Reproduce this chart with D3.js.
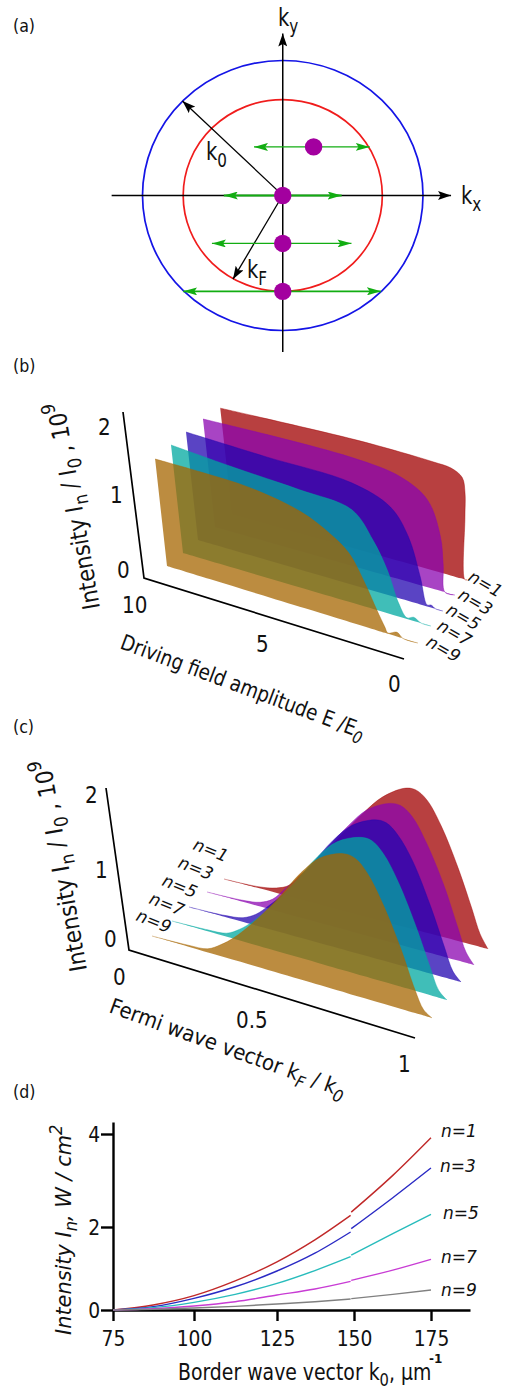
<!DOCTYPE html>
<html>
<head>
<meta charset="utf-8">
<title></title>
<script src="https://cdn.jsdelivr.net/npm/d3@7"></script>
<style>
    html, body { margin: 0; padding: 0; background: #fff; }
    svg { display: block; }
    text { font-family: "DejaVu Sans", sans-serif; fill: #111; }
</style>
</head>
<body>
<svg width="506" height="1391"></svg>
<script>
// series order, back to front
var orders = [1, 3, 5, 7, 9];
var ribbonColors = ["#a00000", "#8b06b0", "#2306b0", "#00a8a0", "#a66600"];

// (a) values in units of k0
var k0 = 1, kF = 0.71;
var dotsKx = [0.22, 0, 0, 0];
var dotsKy = [0.36, 0, -0.355, -0.71];
var arrowLeft = [-0.205, -0.42, -0.505, -0.71];
var arrowRight = [0.62, 0.42, 0.49, 0.70];

// (b) intensity against driving field, one pair per order
var bE1 = [10, 4.7, 2.75, 1.4, 0.7, 0.25, 0.13, 0.12, 0.1, 0];
var bI1 = [1.47, 1.53, 1.526, 1.51, 1.49, 1.40, 1.2, 0.87, 0, 0];
var bE3 = [10, 4.15, 2.2, 1.14, 0.62, 0.5, 0.42, 0];
var bI3 = [1.5, 1.52, 1.43, 1.21, 0.75, 0.37, 0, 0];
var bE5 = [10, 6.9, 3.6, 2.1, 1.4, 0.93, 0.65, 0.49, 0.3, 0];
var bI5 = [1.5, 1.46, 1.425, 1.236, 0.89, 0.38, 0.02, 0.035, 0, 0];
var bE7 = [10, 7.6, 5.1, 3.1, 2.3, 1.75, 1.31, 0.97, 0.7, 0.4, 0];
var bI7 = [1.5, 1.43, 1.375, 1.30, 0.96, 0.6, 0.19, 0.015, 0.05, 0, 0];
var bE9 = [10, 8.3, 6.4, 4.5, 3.4, 2.7, 2.1, 1.63, 1.32, 1.2, 0.84, 0.6, 0];
var bI9 = [1.486, 1.49, 1.47, 1.34, 1.15, 0.96, 0.61, 0.28, 0.08, 0.01, 0.06, 0, 0];
var bSeries = [[bE1, bI1], [bE3, bI3], [bE5, bI5], [bE7, bI7], [bE9, bI9]];

// (c) intensity against Fermi wave vector
var cK = [0, 0.13, 0.2, 0.25, 0.3, 0.37, 0.46, 0.55, 0.62, 0.7, 0.74, 0.78, 0.83, 0.89, 0.94, 0.97, 1];
var cI1 = [0, 0.02, 0.07, 0.155, 0.36, 0.62, 1.05, 1.46, 1.74, 1.94, 1.96, 1.86, 1.55, 1.02, 0.5, 0.18, 0];
var cI3 = [0, 0.02, 0.06, 0.155, 0.35, 0.62, 1.05, 1.48, 1.77, 1.94, 1.95, 1.84, 1.52, 1.0, 0.46, 0.15, 0];
var cI5 = [0, 0.02, 0.06, 0.16, 0.33, 0.6, 1.04, 1.5, 1.78, 1.94, 1.94, 1.81, 1.5, 0.95, 0.42, 0.12, 0];
var cI7 = [0, 0.02, 0.05, 0.16, 0.32, 0.6, 1.03, 1.5, 1.78, 1.93, 1.93, 1.79, 1.45, 0.9, 0.38, 0.1, 0];
var cI9 = [0, 0.02, 0.05, 0.165, 0.32, 0.6, 1.02, 1.5, 1.79, 1.94, 1.92, 1.76, 1.40, 0.85, 0.32, 0.08, 0];
var cSeries = [cI1, cI3, cI5, cI7, cI9];

// (d) intensity against border wave vector, the figure has a seam just before 150
var dK = [75, 87.4, 100, 112.4, 125, 137.3, 148.9, 149.1, 162.6, 175];
var dI1 = [0, 0.12, 0.345, 0.70, 1.16, 1.69, 2.25, 2.32, 3.11, 3.92];
var dI3 = [0, 0.08, 0.28, 0.56, 0.94, 1.37, 1.88, 1.96, 2.63, 3.27];
var dI5 = [0, 0.056, 0.185, 0.377, 0.64, 0.95, 1.285, 1.325, 1.84, 2.27];
var dI7 = [0, 0.03, 0.096, 0.2, 0.36, 0.506, 0.69, 0.715, 0.96, 1.22];
var dI9 = [0, 0.016, 0.048, 0.088, 0.145, 0.2, 0.265, 0.273, 0.376, 0.482];
var dSeries = [dI1, dI3, dI5, dI7, dI9];
var dColors = ["#c02828", "#2a2ac4", "#28bcbc", "#c83cd4", "#808080"];
var dTicksX = [75, 100, 125, 150, 175];
var dTicksY = [0, 2, 4];

var svg = d3.select("svg");

// text with sub and superscripts, scaled sideways because the figure is squeezed
function label(x, y, parts, size, rot, sx, italic) {
    var t = svg.append("text")
        .attr("transform", "translate(" + x + "," + y + ") rotate(" + (rot || 0) + ") scale(" + (sx || 1) + ",1)")
        .attr("font-size", size)
        .attr("font-style", italic ? "italic" : "normal");
    var shift = 0;
    parts.forEach(function(p) {
        var plain = typeof p === "string";
        var s = plain ? p : p[0];
        var kind = plain ? "" : p[1];
        var target = kind === "sub" ? size * 0.28 : kind === "sup" ? -size * 0.42 : 0;
        var span = t.append("tspan")
            .attr("dy", target - shift)
            .attr("font-size", kind === "sub" || kind === "sup" ? size * 0.78 : size)
            .text(s);
        if (!plain && p[2]) span.attr("font-style", "italic");
        shift = target;
    });
    return t;
}

function marker(id, color, w, h) {
    svg.append("defs").append("marker")
        .attr("id", id)
        .attr("viewBox", "0 0 " + w + " " + h)
        .attr("refX", w).attr("refY", h / 2)
        .attr("markerWidth", w).attr("markerHeight", h)
        .attr("markerUnits", "userSpaceOnUse")
        .attr("orient", "auto")
        .append("path")
        .attr("d", "M0,0L" + w + "," + (h / 2) + "L0," + h + "L" + (w * 0.2) + "," + (h / 2) + "Z")
        .attr("fill", color);
}
marker("blackHead", "#000", 13, 9);
marker("greenHead", "#12ad12", 14, 8);

// ---------- (a)
var kx = d3.scaleLinear().domain([-1, 1]).range([142.5, 423]);
var ky = d3.scaleLinear().domain([-1, 1]).range([330.5, 60.5]);
var a = svg.append("g");

[[k0, "#1414e6"], [kF, "#f01c1c"]].forEach(function(c) {
    a.append("ellipse")
        .attr("cx", kx(0)).attr("cy", ky(0))
        .attr("rx", kx(c[0]) - kx(0)).attr("ry", ky(0) - ky(c[0]))
        .attr("fill", "none").attr("stroke", c[1]).attr("stroke-width", 1.7);
});

a.append("line").attr("x1", kx(-1.22)).attr("x2", kx(1.2)).attr("y1", ky(0)).attr("y2", ky(0))
    .attr("stroke", "#000").attr("stroke-width", 1.5).attr("marker-end", "url(#blackHead)");
a.append("line").attr("x1", kx(0)).attr("x2", kx(0)).attr("y1", ky(-1.16)).attr("y2", ky(1.2))
    .attr("stroke", "#000").attr("stroke-width", 1.5).attr("marker-end", "url(#blackHead)");
a.append("line").attr("x1", kx(-0.04)).attr("y1", ky(0.04)).attr("x2", kx(-0.715)).attr("y2", ky(0.7))
    .attr("stroke", "#000").attr("stroke-width", 1.3).attr("marker-end", "url(#blackHead)");
a.append("line").attr("x1", kx(-0.03)).attr("y1", ky(-0.05)).attr("x2", kx(-0.355)).attr("y2", ky(-0.62))
    .attr("stroke", "#000").attr("stroke-width", 1.3).attr("marker-end", "url(#blackHead)");

dotsKy.forEach(function(v, i) {
    [arrowLeft[i], arrowRight[i]].forEach(function(end) {
        a.append("line")
            .attr("x1", kx(dotsKx[i])).attr("x2", kx(end))
            .attr("y1", ky(v)).attr("y2", ky(v))
            .attr("stroke", "#12ad12").attr("stroke-width", i === 3 || i === 1 ? 1.8 : 1.2)
            .attr("marker-end", "url(#greenHead)");
    });
});
a.selectAll("circle").data(dotsKy).enter().append("circle")
    .attr("cx", function(d, i) { return kx(dotsKx[i]); })
    .attr("cy", function(d) { return ky(d); })
    .attr("r", 8.7)
    .attr("fill", "#a3009f");

label(13, 32, ["(a)"], 18, 0, 0.88);
label(278, 26, ["k", ["y", "sub"]], 25, 0, 0.78);
label(461, 204, ["k", ["x", "sub"]], 25, 0, 0.78);
label(206, 160, ["k", ["0", "sub"]], 25, 0, 0.78);
label(247, 278, ["k", ["F", "sub"]], 25, 0, 0.78);

// ---------- oblique ribbons for (b) and (c)
function lerp(p, q, t) { return p + (q - p) * t; }

function ribbons(cfg) {
    var t = d3.scaleLinear().domain(cfg.domain).range([0, 1]);
    var xStart = d3.scaleOrdinal().domain(orders).range(cfg.xStart);
    var xEnd = d3.scaleOrdinal().domain(orders).range(cfg.xEnd);
    var yStart = d3.scaleOrdinal().domain(orders).range(cfg.yStart);
    var yEnd = d3.scaleOrdinal().domain(orders).range(cfg.yEnd);
    orders.forEach(function(n, i) {
        var pts = cfg.points(i);
        var bx = function(d) { return lerp(xStart(n), xEnd(n), t(d[0])); };
        var by = function(d) { return lerp(yStart(n), yEnd(n), t(d[0])); };
        var tx = function(d) { return bx(d) + d[1] * lerp(cfg.lean[0], cfg.lean[1], t(d[0])); };
        var ty = function(d) { return by(d) - d[1] * cfg.unit; };
        var curve = d3.curveCatmullRom.alpha(0.5);
        svg.append("path")
            .attr("d", d3.area().curve(curve).x0(bx).y0(by).x1(tx).y1(ty)(pts))
            .attr("fill", ribbonColors[i]).attr("fill-opacity", 0.75);
        svg.append("path")
            .attr("d", d3.line().curve(curve).x(tx).y(ty)(pts))
            .attr("fill", "none").attr("stroke", ribbonColors[i])
            .attr("stroke-opacity", 0.7).attr("stroke-width", 0.6);
    });
}

function pairs(xs, ys) { return xs.map(function(x, j) { return [x, ys[j]]; }); }

function axes3d(p) {
    svg.append("path")
        .attr("d", d3.line()(p))
        .attr("fill", "none").attr("stroke", "#000").attr("stroke-width", 1.7);
}

// ---------- (b)
ribbons({
    domain: [10, 0],
    xStart: [232, 215, 198, 183, 167], xEnd: [467, 455, 443, 431, 418],
    yStart: [514, 527, 540, 553, 566], yEnd: [580, 595, 611, 626, 643],
    lean: [-8, 1], unit: 72,
    points: function(i) { return pairs(bSeries[i][0], bSeries[i][1]); }
});
var bAxisX = d3.scaleLinear().domain([10, 0]).range([144, 404]);
var bAxisY = d3.scaleLinear().domain([10, 0]).range([578, 659]);
axes3d([[123, 412], [bAxisX(10), bAxisY(10)], [bAxisX(0), bAxisY(0)]]);

label(13, 372, ["(b)"], 18, 0, 0.88);
label(98, 435, ["2"], 23.5, 0, 0.85);
label(110, 503, ["1"], 23.5, 0, 0.85);
label(117, 578, ["0"], 23.5, 0, 0.85);
label(122, 613, ["10"], 23.5, 0, 0.85);
label(256, 652, ["5"], 23.5, 0, 0.85);
label(388, 692, ["0"], 23.5, 0, 0.85);
label(100, 608, ["Intensity I", ["n", "sub"], " / I", ["0", "sub"], " , 10", ["9", "sup"]], 24, -100, 0.88);
label(119, 648, ["Driving field amplitude E /E", ["0", "sub", true]], 21.5, 20.5, 0.85);
[[467, 580, "n=1"], [457, 598, "n=3"], [445, 613, "n=5"], [436, 629, "n=7"], [425, 645, "n=9"]].forEach(function(d) {
    label(d[0], d[1], [d[2]], 17, 30, 1, true);
});

// ---------- (c)
ribbons({
    domain: [0, 1],
    xStart: [224, 207, 189, 172, 152], xEnd: [488, 474, 461, 447, 432],
    yStart: [879, 892, 907, 921, 936], yEnd: [949, 965, 982, 1000, 1018],
    lean: [-8, 0], unit: 72,
    points: function(i) { return pairs(cK, cSeries[i]); }
});
var cAxisX = d3.scaleLinear().domain([0, 1]).range([129, 415]);
var cAxisY = d3.scaleLinear().domain([0, 1]).range([950, 1038]);
axes3d([[106, 788], [cAxisX(0), cAxisY(0)], [cAxisX(1), cAxisY(1)]]);

label(13, 733, ["(c)"], 18, 0, 0.88);
label(85, 803, ["2"], 23.5, 0, 0.85);
label(95, 878, ["1"], 23.5, 0, 0.85);
label(104, 947, ["0"], 23.5, 0, 0.85);
label(113, 985, ["0"], 23.5, 0, 0.85);
label(236, 1028, ["0.5"], 23.5, 0, 0.85);
label(398, 1072, ["1"], 23.5, 0, 0.85);
label(87, 970, ["Intensity I", ["n", "sub"], " / I", ["0", "sub"], " , 10", ["9", "sup"]], 24, -100, 0.9);
label(108, 1012, ["Fermi wave vector k", ["F", "sub", true], " / k", ["0", "sub", true]], 21.5, 20, 0.92);
[[192, 849, "n=1"], [177, 867, "n=3"], [161, 885, "n=5"], [148, 903, "n=7"], [135, 920, "n=9"]].forEach(function(d) {
    label(d[0], d[1], [d[2]], 17, 22, 1, true);
});

// ---------- (d)
// the published figure is slightly uneven, so both scales are piecewise
var x = d3.scaleLinear().domain([75, 100, 125, 150, 175, 187]).range([113, 194, 277, 354, 431, 470]);
var y = d3.scaleLinear().domain([0, 2, 4, 4.25]).range([1310, 1227, 1134, 1122]);

var gx = svg.append("g").attr("transform", "translate(0," + y(0) + ")")
    .call(d3.axisBottom(x).tickValues(dTicksX).tickFormat(d3.format("d")).tickSize(11).tickPadding(5).tickSizeOuter(0));
var gy = svg.append("g").attr("transform", "translate(" + x(75) + ",0)")
    .call(d3.axisLeft(y).tickValues(dTicksY).tickFormat(d3.format("d")).tickSize(12).tickPadding(3).tickSizeOuter(0));
[gx, gy].forEach(function(g) {
    g.selectAll("path, line").attr("stroke", "#000").attr("stroke-width", 2.4);
    g.selectAll("text").attr("font-size", 22).attr("fill", "#111")
        .attr("transform", "scale(0.85,1)")
        .style("font-family", '"DejaVu Sans", sans-serif');
});
gx.selectAll(".tick text").attr("dy", "0.9em");

var dLine = d3.line().curve(d3.curveMonotoneX)
    .x(function(d) { return x(d[0]); })
    .y(function(d) { return y(d[1]); });
var seam = 7;
dSeries.forEach(function(s, i) {
    var pts = pairs(dK, s);
    [pts.slice(0, seam), pts.slice(seam)].forEach(function(part) {
        svg.append("path")
            .attr("d", dLine(part))
            .attr("fill", "none").attr("stroke", dColors[i]).attr("stroke-width", 1.4);
    });
});

label(13, 1098, ["(d)"], 18, 0, 0.88);
label(441, 1137, ["n=1"], 17, 0, 1, true);
label(440, 1172, ["n=3"], 17, 0, 1, true);
label(443, 1219, ["n=5"], 17, 0, 1, true);
label(441, 1263, ["n=7"], 17, 0, 1, true);
label(441, 1296, ["n=9"], 17, 0, 1, true);
label(71, 1335, ["Intensity I", ["n", "sub"], ", W / cm", ["2", "sup"]], 22, -90, 0.95, true);
label(178, 1380, ["Border wave vector k", ["0", "sub"], ", μm"], 23, 0, 0.82);
label(429, 1363, ["-1"], 12, 0, 1).attr("font-weight", "bold");
</script>
</body>
</html>
